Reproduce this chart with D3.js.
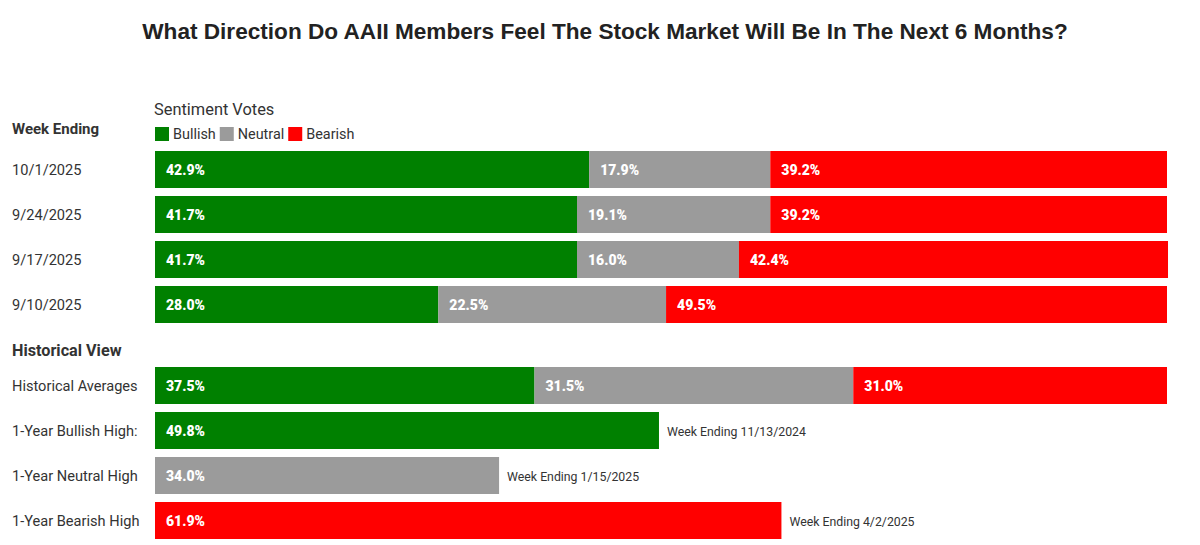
<!DOCTYPE html>
<html>
<head>
<meta charset="utf-8">
<script src="https://cdn.jsdelivr.net/npm/d3@7"></script>
<style>
  body { margin: 0; background: #fff; }
  svg { display: block; font-family: Roboto, sans-serif; }
</style>
</head>
<body>
<svg id="chart"></svg>
<script>
const weeks = ["10/1/2025", "9/24/2025", "9/17/2025", "9/10/2025"];
const bullish = [42.9, 41.7, 41.7, 28.0];
const neutral = [17.9, 19.1, 16.0, 22.5];
const bearish = [39.2, 39.2, 42.4, 49.5];

const histAvg = [37.5, 31.5, 31.0];
const highLabels = ["1-Year Bullish High:", "1-Year Neutral High", "1-Year Bearish High"];
const highValues = [49.8, 34.0, 61.9];
const highDates = ["Week Ending 11/13/2024", "Week Ending 1/15/2025", "Week Ending 4/2/2025"];

const seriesNames = ["Bullish", "Neutral", "Bearish"];
const colors = ["#008000", "#9b9b9b", "#ff0000"];

const width = 1200, height = 545;
const svg = d3.select("#chart").attr("width", width).attr("height", height);

const x = d3.scaleLinear().domain([0, 100]).range([155, 1167]);

const valueStyle = sel => sel.style("font-size", "14px").style("font-weight", "900").attr("fill", "#fff");
const rowStyle = sel => sel.style("font-size", "14.6px").attr("fill", "#333");

// Title
svg.append("text")
  .attr("x", 605).attr("y", 39)
  .attr("text-anchor", "middle")
  .style("font-family", "'Liberation Sans', Arial, sans-serif")
  .style("font-weight", "bold")
  .style("font-size", "22.6px")
  .attr("fill", "#222")
  .text("What Direction Do AAII Members Feel The Stock Market Will Be In The Next 6 Months?");

// Headers
svg.append("text").attr("x", 154).attr("y", 115)
  .style("font-size", "16.4px").attr("fill", "#333").text("Sentiment Votes");
svg.append("text").attr("x", 12).attr("y", 134)
  .style("font-size", "15px").style("font-weight", "bold").attr("fill", "#333").text("Week Ending");
svg.append("text").attr("x", 12).attr("y", 356)
  .style("font-size", "16.2px").style("font-weight", "bold").attr("fill", "#333").text("Historical View");

// Legend
const legend = svg.append("g");
let lx = 155;
seriesNames.forEach((name, i) => {
  legend.append("rect").attr("x", lx).attr("y", 127).attr("width", 14).attr("height", 14).attr("fill", colors[i]);
  const t = legend.append("text").attr("x", lx + 18).attr("y", 139)
    .style("font-size", "14.4px").attr("fill", "#333").text(name);
  lx += 18 + t.node().getComputedTextLength() + 4;
});

// Weekly rows
const yWeek = d3.scaleBand().domain(weeks).range([147, 327]).paddingInner(8 / 45).paddingOuter(4 / 45);
const stackData = weeks.map((w, i) => ({ week: w, Bullish: bullish[i], Neutral: neutral[i], Bearish: bearish[i] }));
const stack = d3.stack().keys(seriesNames)(stackData);

stack.forEach((layer, si) => {
  const g = svg.append("g");
  g.selectAll("rect").data(layer).join("rect")
    .attr("x", d => x(d[0]))
    .attr("y", d => yWeek(d.data.week))
    .attr("width", d => x(d[1]) - x(d[0]))
    .attr("height", yWeek.bandwidth())
    .attr("fill", colors[si]);
  g.selectAll("text").data(layer).join("text")
    .attr("x", d => x(d[0]) + 11)
    .attr("y", d => yWeek(d.data.week) + yWeek.bandwidth() / 2 + 5)
    .call(valueStyle)
    .text(d => (d[1] - d[0]).toFixed(1) + "%");
});

svg.append("g").selectAll("text").data(weeks).join("text")
  .attr("x", 12).attr("y", d => yWeek(d) + yWeek.bandwidth() / 2 + 5)
  .call(rowStyle).text(d => d);

// Historical rows
const histRows = ["Historical Averages"].concat(highLabels);
const yHist = d3.scaleBand().domain(histRows).range([363, 543]).paddingInner(8 / 45).paddingOuter(4 / 45);

const avgData = [{ row: "Historical Averages", Bullish: histAvg[0], Neutral: histAvg[1], Bearish: histAvg[2] }];
const avgStack = d3.stack().keys(seriesNames)(avgData);
avgStack.forEach((layer, si) => {
  const d = layer[0];
  svg.append("rect")
    .attr("x", x(d[0])).attr("y", yHist("Historical Averages"))
    .attr("width", x(d[1]) - x(d[0])).attr("height", yHist.bandwidth())
    .attr("fill", colors[si]);
  svg.append("text")
    .attr("x", x(d[0]) + 11).attr("y", yHist("Historical Averages") + yHist.bandwidth() / 2 + 5)
    .call(valueStyle)
    .text((d[1] - d[0]).toFixed(1) + "%");
});

highLabels.forEach((lab, i) => {
  const y0 = yHist(lab);
  svg.append("rect").attr("x", x(0)).attr("y", y0)
    .attr("width", x(highValues[i]) - x(0)).attr("height", yHist.bandwidth())
    .attr("fill", colors[i]);
  svg.append("text").attr("x", x(0) + 11).attr("y", y0 + yHist.bandwidth() / 2 + 5)
    .call(valueStyle)
    .text(highValues[i].toFixed(1) + "%");
  svg.append("text").attr("x", x(highValues[i]) + 8).attr("y", y0 + yHist.bandwidth() / 2 + 5)
    .style("font-size", "12.3px").attr("fill", "#333").text(highDates[i]);
});

svg.append("g").selectAll("text").data(histRows).join("text")
  .attr("x", 12).attr("y", d => yHist(d) + yHist.bandwidth() / 2 + 5)
  .call(rowStyle).text(d => d);
</script>
</body>
</html>
